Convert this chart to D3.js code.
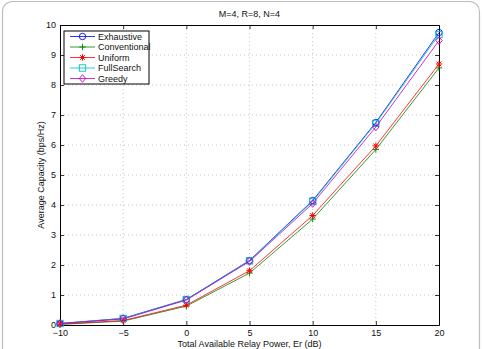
<!DOCTYPE html>
<html>
<head>
<meta charset="utf-8">
<script src="https://cdn.jsdelivr.net/npm/d3@7"></script>
<style>
  body { margin: 0; background: #fff; }
  svg { font-family: "Liberation Sans", Arial, sans-serif; }
</style>
</head>
<body>
<div id="chart"></div>
<script>
const powers = [-10, -5, 0, 5, 10, 15, 20];
const exhaustive = [0.05, 0.22, 0.85, 2.15, 4.15, 6.75, 9.75];
const conventional = [0.02, 0.13, 0.63, 1.73, 3.53, 5.85, 8.57];
const uniform = [0.03, 0.15, 0.66, 1.81, 3.65, 5.97, 8.7];
const fullSearch = [0.05, 0.22, 0.85, 2.14, 4.12, 6.72, 9.68];
const greedy = [0.05, 0.2, 0.83, 2.12, 4.05, 6.6, 9.48];
const xTicks = [-10, -5, 0, 5, 10, 15, 20];
const yTicks = [0, 1, 2, 3, 4, 5, 6, 7, 8, 9, 10];

const series = [
  {name: "Exhaustive", values: exhaustive, color: "#0000ff", mark: "circle"},
  {name: "Conventional", values: conventional, color: "#008000", mark: "plus"},
  {name: "Uniform", values: uniform, color: "#ff0000", mark: "star"},
  {name: "FullSearch", values: fullSearch, color: "#00bfbf", mark: "square"},
  {name: "Greedy", values: greedy, color: "#bf00bf", mark: "diamond"}
];

const W = 482, H = 349;
const margin = {top: 25, right: 43, bottom: 24, left: 60},
    width = W - margin.left - margin.right,
    height = H - margin.top - margin.bottom;

const root = d3.select("#chart").append("svg")
    .attr("width", W).attr("height", H);

// outer frame
root.append("rect")
    .attr("x", 2.5).attr("y", 1.5)
    .attr("width", 477).attr("height", 360)
    .attr("rx", 10)
    .attr("fill", "none").attr("stroke", "#bdbdbd").attr("stroke-width", 1.2);

const svg = root.append("g")
    .attr("transform", `translate(${margin.left},${margin.top})`);

const x = d3.scaleLinear().domain([-10, 20]).range([0, width]);
const y = d3.scaleLinear().domain([0, 10]).range([height, 0]);

// grid
svg.append("g").selectAll("line").data(xTicks.slice(1, -1)).enter().append("line")
    .attr("x1", d => x(d)).attr("x2", d => x(d))
    .attr("y1", 0).attr("y2", height)
    .attr("stroke", "#b8b8b8").attr("stroke-width", 0.8).attr("stroke-dasharray", "1,3");
svg.append("g").selectAll("line").data(yTicks.slice(1, -1)).enter().append("line")
    .attr("x1", 0).attr("x2", width)
    .attr("y1", d => y(d)).attr("y2", d => y(d))
    .attr("stroke", "#b8b8b8").attr("stroke-width", 0.8).attr("stroke-dasharray", "1,3");

// axes (ticks inward)
const fmt = d => d < 0 ? "\u2212" + Math.abs(d) : String(d);
svg.append("g").attr("transform", `translate(0,${height})`)
    .call(d3.axisBottom(x).tickValues(xTicks).tickSizeInner(-4).tickSizeOuter(0).tickPadding(4.5).tickFormat(fmt));
svg.append("g")
    .call(d3.axisLeft(y).tickValues(yTicks).tickSizeInner(-4).tickSizeOuter(0).tickPadding(4).tickFormat(fmt));
svg.append("g")
    .call(d3.axisTop(x).tickValues(xTicks).tickSizeInner(-4).tickSizeOuter(0).tickFormat(""));
svg.append("g").attr("transform", `translate(${width},0)`)
    .call(d3.axisRight(y).tickValues(yTicks).tickSizeInner(-4).tickSizeOuter(0).tickFormat(""));
svg.selectAll(".domain").attr("stroke", "#000").attr("stroke-width", 1);
svg.selectAll(".tick line").attr("stroke", "#000").attr("stroke-width", 0.8);
svg.selectAll(".tick text").attr("font-size", 9).attr("fill", "#111")
    .attr("font-family", "Liberation Sans, Arial, sans-serif");

function drawMark(g, type, cx, cy, color) {
  const s = 3.2;
  if (type === "circle") {
    g.append("circle").attr("cx", cx).attr("cy", cy).attr("r", s)
      .attr("fill", "none").attr("stroke", color).attr("stroke-width", 0.9);
  } else if (type === "square") {
    g.append("rect").attr("x", cx - s).attr("y", cy - s).attr("width", 2 * s).attr("height", 2 * s)
      .attr("fill", "none").attr("stroke", color).attr("stroke-width", 0.9);
  } else if (type === "diamond") {
    g.append("path").attr("d", `M${cx},${cy - s - 0.6}L${cx + s},${cy}L${cx},${cy + s + 0.6}L${cx - s},${cy}Z`)
      .attr("fill", "none").attr("stroke", color).attr("stroke-width", 0.9);
  } else if (type === "plus") {
    g.append("path").attr("d", `M${cx - s},${cy}H${cx + s}M${cx},${cy - s}V${cy + s}`)
      .attr("stroke", color).attr("stroke-width", 0.9);
  } else if (type === "star") {
    const d = s * 0.72;
    g.append("path").attr("d", `M${cx - s},${cy}H${cx + s}M${cx},${cy - s}V${cy + s}M${cx - d},${cy - d}L${cx + d},${cy + d}M${cx - d},${cy + d}L${cx + d},${cy - d}`)
      .attr("stroke", color).attr("stroke-width", 1);
  }
}

const line = d3.line().x((d, i) => x(powers[i])).y(d => y(d));

series.forEach(s => {
  svg.append("path").datum(s.values)
    .attr("fill", "none").attr("stroke", s.color).attr("stroke-width", 0.8)
    .attr("d", line);
  const g = svg.append("g");
  s.values.forEach((v, i) => drawMark(g, s.mark, x(powers[i]), y(v), s.color));
});

// title and labels
root.append("text").attr("x", margin.left + width / 2).attr("y", 17)
    .attr("text-anchor", "middle").attr("font-size", 9).attr("fill", "#111").text("M=4, R=8, N=4");
root.append("text").attr("x", margin.left + width / 2).attr("y", 346.5)
    .attr("text-anchor", "middle").attr("font-size", 9).attr("fill", "#111").text("Total Available Relay Power, Er (dB)");
root.append("text").attr("transform", `translate(44,${margin.top + height / 2}) rotate(-90)`)
    .attr("text-anchor", "middle").attr("font-size", 9).attr("fill", "#111").text("Average Capacity (bps/Hz)");

// legend
const lg = root.append("g").attr("transform", "translate(64,31)");
lg.append("rect").attr("width", 85).attr("height", 53)
    .attr("fill", "#fff").attr("stroke", "#000").attr("stroke-width", 1);
series.forEach((s, i) => {
  const ly = 5.5 + i * 10.5;
  lg.append("line").attr("x1", 6).attr("x2", 31).attr("y1", ly).attr("y2", ly)
    .attr("stroke", s.color).attr("stroke-width", 0.8);
  drawMark(lg, s.mark, 18.5, ly, s.color);
  lg.append("text").attr("x", 34).attr("y", ly + 3.3).attr("font-size", 9).attr("fill", "#111").text(s.name);
});
</script>
</body>
</html>
